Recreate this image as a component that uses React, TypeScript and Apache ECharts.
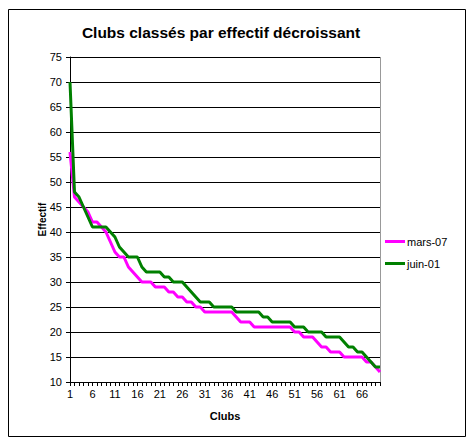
import React, { useEffect, useRef } from "react";
import * as echarts from "echarts";

const clubs: string[] = Array.from({ length: 70 }, (_, i) => String(i + 1));

const mars07: number[] = [
  56, 47, 46, 45, 44, 42, 42, 41, 40, 38,
  36, 35, 35, 33, 32, 31, 30, 30, 30, 29,
  29, 29, 28, 28, 27, 27, 26, 26, 25, 25,
  24, 24, 24, 24, 24, 24, 24, 23, 22, 22,
  22, 21, 21, 21, 21, 21, 21, 21, 21, 21,
  20, 20, 19, 19, 19, 18, 17, 17, 16, 16,
  16, 15, 15, 15, 15, 15, 14, 14, 13, 12,
];

const juin01: number[] = [
  70, 48, 47, 45, 43, 41, 41, 41, 41, 40,
  39, 37, 36, 35, 35, 35, 33, 32, 32, 32,
  32, 31, 31, 30, 30, 30, 29, 28, 27, 26,
  26, 26, 25, 25, 25, 25, 25, 24, 24, 24,
  24, 24, 24, 23, 23, 22, 22, 22, 22, 22,
  21, 21, 21, 20, 20, 20, 20, 19, 19, 19,
  19, 18, 17, 17, 16, 16, 15, 14, 13, 13,
];

const seriesNames: string[] = ["mars-07", "juin-01"];
const titleText = "Clubs classés par effectif décroissant";

export default function App() {
  const ref = useRef<HTMLDivElement>(null);
  useEffect(() => {
    if (!ref.current) return;
    const chart = echarts.init(ref.current, null, { renderer: "svg" });
    const font = "Liberation Sans, Arial, sans-serif";
    chart.setOption({
      animation: false,
      backgroundColor: "#ffffff",
      textStyle: { fontFamily: font },
      graphic: [
        {
          type: "rect",
          shape: { x: 8.5, y: 9.5, width: 457, height: 427 },
          style: { fill: "none", stroke: "#000000", lineWidth: 1 },
          z: 0,
        },
        {
          type: "text",
          x: 221,
          y: 32,
          style: {
            text: titleText,
            fontFamily: font,
            fontSize: 15.5,
            fontWeight: "bold",
            fill: "#000000",
            textAlign: "center",
            textVerticalAlign: "middle",
          },
        },
        {
          type: "line",
          shape: { x1: 70, y1: 57.5, x2: 380, y2: 57.5 },
          style: { stroke: "#999999", lineWidth: 1 },
        },
        {
          type: "line",
          shape: { x1: 380.5, y1: 57, x2: 380.5, y2: 382 },
          style: { stroke: "#999999", lineWidth: 1 },
        },
      ],
      grid: { left: 70, top: 57, width: 310, height: 325, containLabel: false },
      legend: {
        orient: "vertical",
        left: 385,
        top: 236,
        padding: 0,
        itemGap: 11,
        itemWidth: 20,
        itemHeight: 3,
        icon: "rect",
        data: seriesNames,
        textStyle: { fontSize: 11, color: "#000000", fontFamily: font, padding: [0, 0, 0, -3] },
      },
      xAxis: {
        type: "category",
        data: clubs,
        boundaryGap: false,
        name: "Clubs",
        nameLocation: "middle",
        nameGap: 28,
        nameMoveOverlap: false,
        nameTextStyle: { fontSize: 11, fontWeight: "bold", color: "#000000", fontFamily: font },
        axisLine: { lineStyle: { color: "#000000", width: 1 } },
        axisTick: { show: true, interval: 0, length: 4, lineStyle: { color: "#000000" } },
        axisLabel: { interval: 4, fontSize: 11, color: "#000000", margin: 6, fontFamily: font },
        splitLine: { show: false },
      },
      yAxis: {
        type: "value",
        min: 10,
        max: 75,
        interval: 5,
        name: "Effectif",
        nameLocation: "middle",
        nameGap: 23,
        nameMoveOverlap: false,
        nameTextStyle: { fontSize: 10, fontWeight: "bold", color: "#000000", fontFamily: font },
        axisLine: { show: true, lineStyle: { color: "#000000", width: 1 } },
        axisTick: { show: true, length: 4, lineStyle: { color: "#000000" } },
        axisLabel: { fontSize: 11, color: "#000000", margin: 8, fontFamily: font },
        splitLine: { show: true, lineStyle: { color: "#000000", width: 1 } },
      },
      series: [
        {
          name: seriesNames[0],
          type: "line",
          data: mars07,
          showSymbol: false,
          symbol: "none",
          itemStyle: { color: "#ff00ff" },
          lineStyle: { color: "#ff00ff", width: 3 },
        },
        {
          name: seriesNames[1],
          type: "line",
          data: juin01,
          showSymbol: false,
          symbol: "none",
          itemStyle: { color: "#008000" },
          lineStyle: { color: "#008000", width: 3 },
        },
      ],
    });
    return () => chart.dispose();
  }, []);
  return (
    <div
      ref={ref}
      style={{ position: "fixed", left: 0, top: 0, width: 473, height: 443, background: "#fff" }}
    />
  );
}
